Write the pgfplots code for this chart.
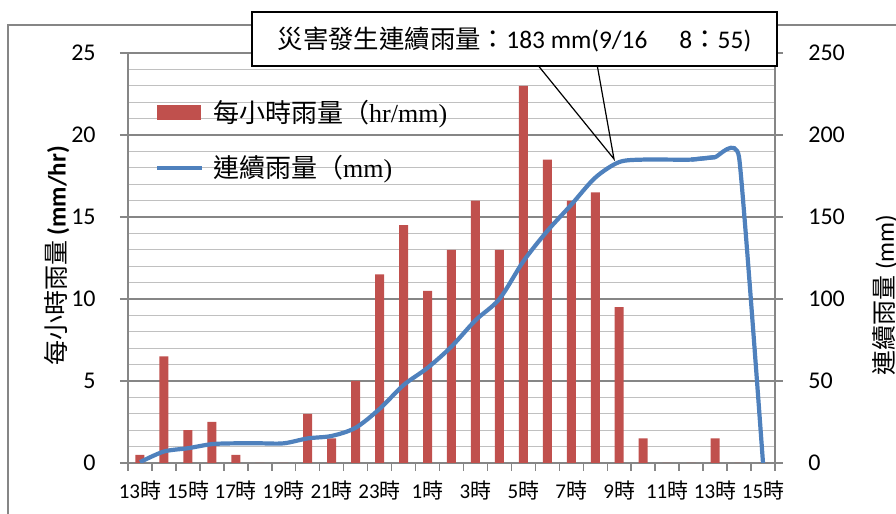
\documentclass[border=0pt]{standalone}
\usepackage{fontspec}
\usepackage{pgfplots}
\pgfplotsset{compat=1.18}
\setmainfont{Carlito}
\newfontfamily\cjk{Noto Sans CJK TC}
\newfontfamily\lserif{Liberation Serif}
\definecolor{barred}{HTML}{C0504D}
\definecolor{lineblue}{HTML}{4F81BD}
\definecolor{axgray}{HTML}{868686}
\definecolor{gridminor}{HTML}{C0C0C0}
\newcommand\hr[1]{#1{\cjk 時}}

\begin{document}
\begin{tikzpicture}
\useasboundingbox (-64pt,-25.5pt) rectangle (384pt,231.5pt);
% chart area frame
\draw[axgray, line width=0.75pt] (-60pt,-40pt) -- (-60pt,219pt) -- (400pt,219pt);

% hourly rainfall (left axis)
\begin{axis}[
  scale only axis, width=323.5pt, height=205pt,
  xmin=-0.5, xmax=26.5, ymin=0, ymax=25,
  axis x line*=bottom, axis y line*=left,
  axis line style={axgray, line width=0.75pt},
  tick style={axgray, line width=0.75pt},
  tick align=outside,
  major tick length=4pt,
  xtick={-0.5,0.5,...,26.5}, xticklabels={},
  extra x ticks={0,2,...,26},
  extra x tick labels={\hr{13},\hr{15},\hr{17},\hr{19},\hr{21},\hr{23},\hr{1},\hr{3},\hr{5},\hr{7},\hr{9},\hr{11},\hr{13},\hr{15}},
  extra x tick style={major tick length=0pt},
  xticklabel style={font=\fontsize{10.5}{12}\selectfont, anchor=base, yshift=-18pt},
  ytick={0,5,...,25},
  minor y tick num=4, minor tick length=0pt,
  ymajorgrids, yminorgrids,
  major grid style={color=axgray, line width=0.6pt},
  minor grid style={color=gridminor, line width=0.6pt},
  yticklabel style={font=\fontsize{12}{14}\selectfont, anchor=east, inner sep=0pt, xshift=-12pt},
  /pgf/number format/assume math mode=true,
  ybar, bar width=4.5pt,
]
\addplot[fill=barred, draw=none] coordinates {
  (0,0.5) (1,6.5) (2,2) (3,2.5) (4,0.5) (5,0) (6,0) (7,3) (8,1.5)
  (9,5) (10,11.5) (11,14.5) (12,10.5) (13,13) (14,16) (15,13) (16,23)
  (17,18.5) (18,16) (19,16.5) (20,9.5) (21,1.5) (22,0) (23,0) (24,1.5)
  (25,0) (26,0)
};
\end{axis}

% cumulative rainfall (right axis)
\begin{axis}[
  scale only axis, width=323.5pt, height=205pt,
  xmin=-0.5, xmax=26.5, ymin=0, ymax=250,
  axis x line=none, axis y line*=right,
  axis line style={axgray, line width=0.75pt},
  tick style={axgray, line width=0.75pt},
  tick align=outside,
  major tick length=4pt,
  ytick={0,50,...,250},
  yticklabel style={font=\fontsize{12}{14}\selectfont, anchor=west, inner sep=0pt, xshift=12.5pt},
  /pgf/number format/assume math mode=true,
  legend style={at={(0.0417,0.7866)}, anchor=west, draw=none, fill=none,
    inner sep=0pt, outer sep=0pt, row sep=11pt, column sep=2.5pt,
    font=\fontsize{13}{15}\selectfont},
  legend cell align=left,
]
\addlegendimage{legend image code/.code={\fill[barred] (0pt,-3.5pt) rectangle (21.5pt,3.5pt);}}
\addlegendentry{{\cjk 每小時雨量（}{\lserif hr/mm)}}
\addplot[lineblue, line width=2.1pt, smooth, no markers,
  legend image code/.code={\draw[lineblue, line width=2.1pt] (0pt,0pt) -- (22.5pt,0pt);}]
  coordinates {
  (0,0.5) (1,7) (2,9) (3,11.5) (4,12) (5,12) (6,12) (7,15) (8,16.5)
  (9,21.5) (10,33) (11,47.5) (12,58) (13,71) (14,87) (15,100) (16,123)
  (17,141.5) (18,157.5) (19,174) (20,183.5) (21,185) (22,185) (23,185)
  (24,186.5)
};
\addlegendentry{{\cjk 連續雨量（}{\lserif mm)}}
% final hours and the drop, with a tighter curve at the corner
\addplot[lineblue, line width=2.1pt, smooth, tension=0.25, no markers, forget plot]
  coordinates {(23,185) (24,186.5) (25,186.5) (26,0)};
\end{axis}

% axis titles
\node[rotate=90, font=\fontsize{12.5}{15}\selectfont] at (-35.5pt,103.5pt)
  {{\cjk 每小時雨量} \textbf{(mm/hr)}};
\node[rotate=90, font=\fontsize{12.5}{15}\selectfont] at (378.5pt,84pt)
  {{\cjk 連續雨量} (mm)};

% callout for the rainfall at the time of the disaster
\draw[black, line width=0.6pt] (200pt,205pt) -- (243pt,152pt) -- (233.5pt,205pt);
\node[draw=black, fill=white, line width=0.75pt, minimum width=262.5pt,
  minimum height=27pt, inner sep=0pt, font=\fontsize{12.7}{15}\selectfont]
  at (193.25pt,212pt)
  {{\cjk 災害發生連續雨量：}183 mm(9/16\hspace{16pt}8{\cjk ：}55)};
\end{tikzpicture}
\end{document}
